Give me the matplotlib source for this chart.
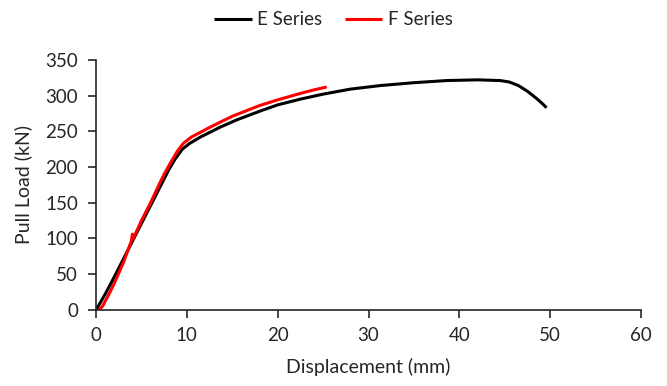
import matplotlib
matplotlib.use("Agg")
import matplotlib.pyplot as plt

# Data
e_disp = [0, 1, 2, 3, 4, 5, 6, 7, 8, 8.7, 9.5, 10.3, 11.5, 12.6, 13.7, 15.5, 18, 20,
          22.5, 25, 28, 31.3, 35, 38.6, 42, 44.5, 45.5, 46.5, 47.5, 48.5, 49.2, 49.6]
e_load = [0, 22, 46, 71, 96, 121, 146, 171, 196, 211, 225, 233, 242, 249, 256, 266, 278, 287,
          295, 302, 309, 314, 318, 321, 322, 321, 319, 314, 306, 296, 288, 283]

f_disp = [0.3, 0.7, 1, 1.5, 2, 3, 3.9, 4.0, 4.1, 5, 6, 7, 7.5, 8.2, 9, 9.6, 10.5, 12.6,
          13.7, 15, 18, 20, 22.5, 24, 25.4]
f_load = [0, 5, 12, 24, 37, 66, 97, 106, 100, 125, 150, 177, 190, 206, 223, 233, 242, 256,
          263, 271, 286, 294, 303, 308, 312]

series_names = ["E Series", "F Series"]
x_ticks = [0, 10, 20, 30, 40, 50, 60]
y_ticks = [0, 50, 100, 150, 200, 250, 300, 350]

plt.rcParams['font.family'] = ['Lato', 'DejaVu Sans']
txt = "#262626"

fig = plt.figure(figsize=(6.67, 3.86), dpi=100)
ax = fig.add_axes([0.144, 0.197, 0.817, 0.648])

ax.plot(e_disp, e_load, color="black", lw=2.2, label=series_names[0], solid_capstyle="butt")
ax.plot(f_disp, f_load, color="#ff0000", lw=2.2, label=series_names[1], solid_capstyle="butt")

ax.set_xlim(0, 60)
ax.set_ylim(0, 350)
ax.set_xticks(x_ticks)
ax.set_yticks(y_ticks)
ax.tick_params(axis="both", labelsize=13.5, colors=txt, length=6, width=1.2, direction="out")
ax.tick_params(axis="y", pad=7)
ax.tick_params(axis="x", pad=6)
for s in ["top", "right"]:
    ax.spines[s].set_visible(False)
for s in ["left", "bottom"]:
    ax.spines[s].set_color(txt)
    ax.spines[s].set_linewidth(1.2)

ax.set_xlabel("Displacement (mm)", fontsize=14, color=txt, labelpad=10)
ax.set_ylabel("Pull Load (kN)", fontsize=14, color=txt, labelpad=9)

fig.legend(loc="upper center", bbox_to_anchor=(0.5, 1.015), ncol=2, frameon=False,
           fontsize=13.5, handlelength=2.0, columnspacing=1.2, handletextpad=0.3,
           labelcolor=txt)

fig.savefig("out.png", dpi=100)
